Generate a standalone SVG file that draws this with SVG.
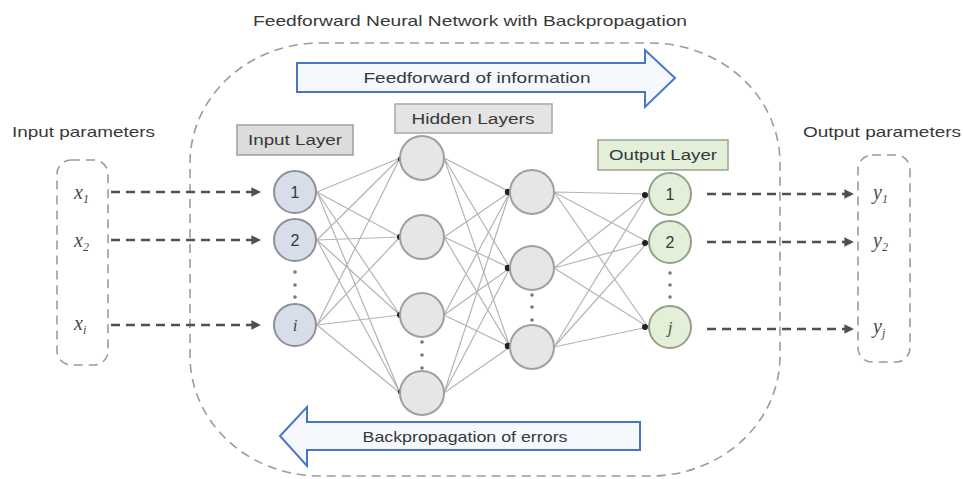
<svg xmlns="http://www.w3.org/2000/svg" width="963" height="479" viewBox="0 0 963 479">
<defs>
<style>
.t{font-family:"Liberation Sans",Arial,sans-serif;fill:#383838;}
.var{font-family:"Liberation Serif","Times New Roman",serif;font-style:italic;fill:#4a4a4a;font-size:20px;}
.sub{font-size:12px;}
.dash{fill:none;stroke:#9a9e96;stroke-width:1.6;stroke-dasharray:9 6;}
.flow{fill:none;stroke:#505050;stroke-width:2.4;stroke-dasharray:9 6;}
.in{fill:#d7dde9;stroke:#8c9099;stroke-width:2;}
.hid{fill:#e6e6e6;stroke:#a0a0a0;stroke-width:2;}
.out{fill:#e3efd9;stroke:#94a088;stroke-width:2;}
.edge{stroke:#b4b4b4;stroke-width:1.2;fill:none;}
.jd{fill:#222;}
.dot{fill:#777;}
.big{fill:#f5f8fd;stroke:#4a74c6;stroke-width:2;}
.lbl{stroke-width:1.5;}
</style>
<marker id="ah" viewBox="0 0 10 10" refX="9" refY="5" markerWidth="4" markerHeight="4" orient="auto">
<path d="M0,0 L10,5 L0,10 z" fill="#505050"/>
</marker>
</defs>
<rect width="963" height="479" fill="#ffffff"/>

<text class="t" x="470" y="26" font-size="15" text-anchor="middle" textLength="434" lengthAdjust="spacingAndGlyphs">Feedforward Neural Network with Backpropagation</text>

<g id="container">
<rect class="dash" x="190" y="43" width="590" height="433" rx="130" ry="120"/>
</g>

<g id="feedforward-arrow">
<polygon class="big" points="297,63 645,63 645,50 675,78 645,107 645,92 297,92"/>
<text class="t" x="477" y="83" font-size="15" text-anchor="middle" textLength="227" lengthAdjust="spacingAndGlyphs">Feedforward of information</text>
</g>

<g id="backprop-arrow">
<polygon class="big" points="640,422 307,422 307,407 280,436 307,466 307,450 640,450"/>
<text class="t" x="465" y="442" font-size="15" text-anchor="middle" textLength="205" lengthAdjust="spacingAndGlyphs">Backpropagation of errors</text>
</g>

<g id="input-params">
<text class="t" x="12" y="137" font-size="15" textLength="143" lengthAdjust="spacingAndGlyphs">Input parameters</text>
<rect class="dash" x="57" y="160" width="51" height="205" rx="14"/>
<text class="var" x="74" y="199">x<tspan class="sub" dy="4">1</tspan></text>
<text class="var" x="74" y="247">x<tspan class="sub" dy="4">2</tspan></text>
<text class="var" x="74" y="330">x<tspan class="sub" dy="4">i</tspan></text>
</g>

<g id="output-params">
<text class="t" x="803" y="137" font-size="15" textLength="158" lengthAdjust="spacingAndGlyphs">Output parameters</text>
<rect class="dash" x="858" y="155" width="52" height="207" rx="14"/>
<text class="var" x="873" y="199">y<tspan class="sub" dy="4">1</tspan></text>
<text class="var" x="873" y="247">y<tspan class="sub" dy="4">2</tspan></text>
<text class="var" x="873" y="333">y<tspan class="sub" dy="4">j</tspan></text>
</g>

<g id="layer-labels">
<g id="input-layer-label">
<rect class="lbl" x="237" y="125" width="116" height="30" fill="#dcdcdc" stroke="#9a9ea6"/>
<text class="t" x="295" y="145" font-size="14" text-anchor="middle" textLength="94" lengthAdjust="spacingAndGlyphs">Input Layer</text>
</g>
<g id="hidden-layers-label">
<rect class="lbl" x="395" y="104" width="157" height="29" fill="#e4e4e4" stroke="#a8a8a8"/>
<text class="t" x="473" y="124" font-size="14" text-anchor="middle" textLength="123" lengthAdjust="spacingAndGlyphs">Hidden Layers</text>
</g>
<g id="output-layer-label">
<rect class="lbl" x="598" y="140" width="130" height="30" fill="#e3efd9" stroke="#98a48c"/>
<text class="t" x="663" y="160" font-size="14" text-anchor="middle" textLength="108" lengthAdjust="spacingAndGlyphs">Output Layer</text>
</g>
</g>

<g id="connectors">
<line class="flow" x1="111" y1="192" x2="260" y2="192" marker-end="url(#ah)"/>
<line class="flow" x1="111" y1="240" x2="260" y2="240" marker-end="url(#ah)"/>
<line class="flow" x1="111" y1="325" x2="260" y2="325" marker-end="url(#ah)"/>
<line class="flow" x1="707" y1="194" x2="853" y2="194" marker-end="url(#ah)"/>
<line class="flow" x1="707" y1="242" x2="853" y2="242" marker-end="url(#ah)"/>
<line class="flow" x1="707" y1="329" x2="853" y2="329" marker-end="url(#ah)"/>
<path class="edge" d="M317,192 L400,158 M317,192 L400,237 M317,192 L400,315 M317,192 L400,393
M317,240 L400,158 M317,240 L400,237 M317,240 L400,315 M317,240 L400,393
M317,325 L400,158 M317,325 L400,237 M317,325 L400,315 M317,325 L400,393"/>
<path class="edge" d="M444,158 L510,192 M444,158 L510,268 M444,158 L510,347
M444,237 L510,192 M444,237 L510,268 M444,237 L510,347
M444,315 L510,192 M444,315 L510,268 M444,315 L510,347
M444,393 L510,192 M444,393 L510,268 M444,393 L510,347"/>
<path class="edge" d="M554,192 L648,194 M554,192 L648,242 M554,192 L648,327
M554,268 L648,194 M554,268 L648,242 M554,268 L648,327
M554,347 L648,194 M554,347 L648,242 M554,347 L648,327"/>
<circle class="jd" cx="401" cy="159" r="3"/>
<circle class="jd" cx="400" cy="237" r="3"/>
<circle class="jd" cx="400" cy="315" r="3"/>
<circle class="jd" cx="401" cy="392" r="3"/>
<circle class="jd" cx="508" cy="192" r="3.2"/>
<circle class="jd" cx="508" cy="268" r="3.2"/>
<circle class="jd" cx="508" cy="346" r="3.2"/>
<circle class="jd" cx="645" cy="195" r="3"/>
<circle class="jd" cx="645" cy="243" r="3"/>
<circle class="jd" cx="645" cy="327" r="3"/>
</g>

<g id="input-layer">
<g id="in1"><circle class="in" cx="295" cy="192" r="21"/><text class="t" x="295" y="198" font-size="16" text-anchor="middle" fill="#3d4660">1</text></g>
<g id="in2"><circle class="in" cx="295" cy="240" r="21"/><text class="t" x="295" y="246" font-size="16" text-anchor="middle" fill="#3d4660">2</text></g>
<g id="in-dots"><circle class="dot" cx="295" cy="272" r="1.8"/><circle class="dot" cx="295" cy="285" r="1.8"/><circle class="dot" cx="295" cy="297" r="1.8"/></g>
<g id="ini"><circle class="in" cx="295" cy="325" r="21"/><text x="295" y="331" font-size="17" text-anchor="middle" font-family="Liberation Serif, serif" font-style="italic" fill="#3d4660">i</text></g>
</g>

<g id="hidden-layer-1">
<g id="h1a"><circle class="hid" cx="422" cy="158" r="22"/></g>
<g id="h1b"><circle class="hid" cx="422" cy="237" r="22"/></g>
<g id="h1c"><circle class="hid" cx="422" cy="315" r="22"/></g>
<g id="h1-dots"><circle class="dot" cx="422" cy="342" r="1.8"/><circle class="dot" cx="422" cy="355" r="1.8"/><circle class="dot" cx="422" cy="368" r="1.8"/></g>
<g id="h1d"><circle class="hid" cx="422" cy="393" r="22"/></g>
</g>

<g id="hidden-layer-2">
<g id="h2a"><circle class="hid" cx="532" cy="192" r="22"/></g>
<g id="h2b"><circle class="hid" cx="532" cy="268" r="22"/></g>
<g id="h2-dots"><circle class="dot" cx="532" cy="295" r="1.8"/><circle class="dot" cx="532" cy="307" r="1.8"/><circle class="dot" cx="532" cy="320" r="1.8"/></g>
<g id="h2c"><circle class="hid" cx="532" cy="347" r="22"/></g>
</g>

<g id="output-layer">
<g id="out1"><circle class="out" cx="670" cy="194" r="21"/><text class="t" x="670" y="200" font-size="16" text-anchor="middle" fill="#3f5a30">1</text></g>
<g id="out2"><circle class="out" cx="670" cy="242" r="21"/><text class="t" x="670" y="248" font-size="16" text-anchor="middle" fill="#3f5a30">2</text></g>
<g id="out-dots"><circle class="dot" cx="670" cy="273" r="1.8"/><circle class="dot" cx="670" cy="285" r="1.8"/><circle class="dot" cx="670" cy="297" r="1.8"/></g>
<g id="outj"><circle class="out" cx="670" cy="327" r="21"/><text x="670" y="333" font-size="17" text-anchor="middle" font-family="Liberation Serif, serif" font-style="italic" fill="#3f5a30">j</text></g>
</g>
</svg>
